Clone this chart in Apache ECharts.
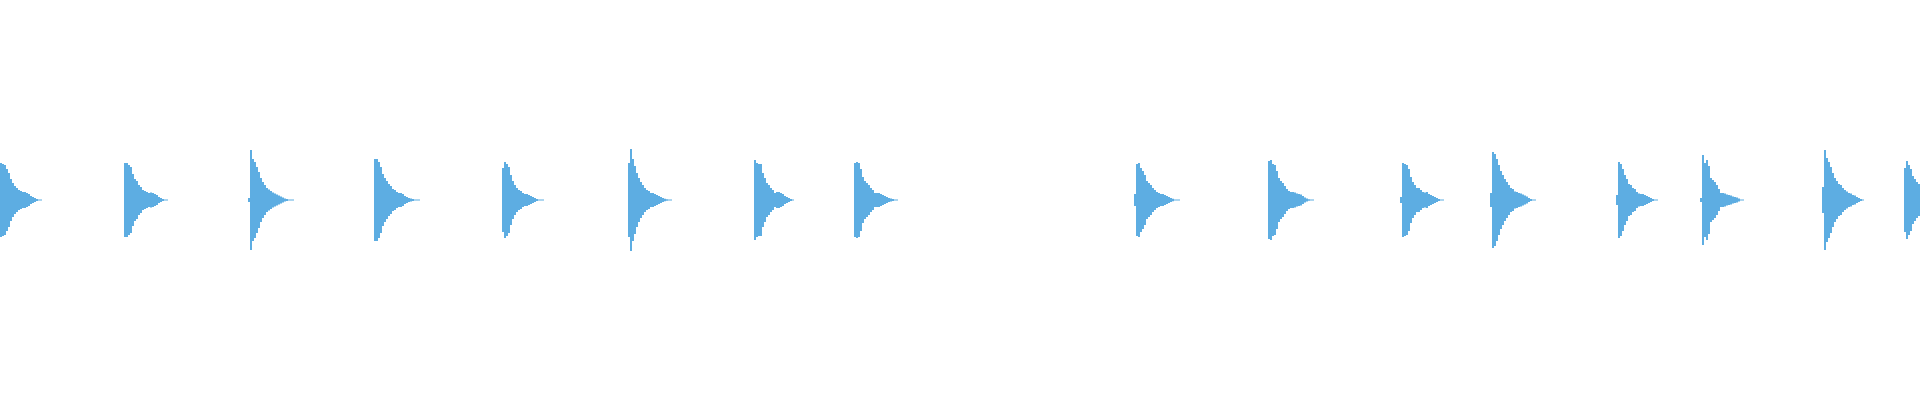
<!DOCTYPE html>
<html>
<head>
<meta charset="utf-8">
<title>waveform</title>
<script src="https://cdn.jsdelivr.net/npm/echarts@6/dist/echarts.min.js"></script>
<style>
    html, body {margin: 0; padding: 0; background: #ffffff;}
    #waveDiv {width: 1920px; height: 400px;}
</style>
</head>
<body>
<div id="waveDiv"></div>
<script>
// number of 2px columns across the picture
var binCount = 960;

// column where each hit starts
var pulseStarts = [0, 62, 124, 187, 251, 314, 377, 427, 567, 634, 700, 745, 808, 850, 911, 952];

// peak level of every column of each hit (mirrored above/below zero)
var pulseLevels = [
    [37, 36, 35, 31, 27, 21, 17, 14, 12, 10, 9, 8, 8, 7, 6, 4, 3, 2, 1, 0.5, 0.5],
    [37, 37, 35, 33, 26, 21, 19, 15, 13, 10, 9, 8, 7, 7.5, 7, 6, 5, 3, 2, 1, 0.5, 0.5],
    [2, 50, 41, 38, 33, 28, 22, 18, 15, 12, 10.5, 9, 7.5, 6.5, 5.5, 4.5, 3.5, 2.5, 1.5, 1, 0.5, 0.5, 0.5],
    [41, 41, 38, 33, 26, 22, 19, 16, 14, 11, 10, 8, 7, 7, 6, 4, 3, 2, 1.5, 1, 0.5, 0.5, 0.5],
    [32, 38, 36, 33, 25, 19, 15, 12, 10, 9, 7, 6, 6, 5, 4, 3, 2, 1, 0.5, 0.5, 0.5],
    [37, 51, 41, 34, 27, 22, 18, 15, 12, 10, 9, 7, 7, 6, 5, 4, 3, 2, 1.3, 0.7, 0.5, 0.5],
    [40, 37, 36, 36, 27, 22, 17, 15, 12, 10, 7, 8, 8, 7, 6, 4, 3, 2, 1, 0.5],
    [37, 38, 37, 31, 23, 19, 17, 15, 12, 10, 7, 7, 7, 6, 5, 4, 3, 2, 1.5, 1, 0.5, 0.5],
    [6, 36, 37, 32, 29, 25, 19, 17, 15, 12, 10, 8, 7, 6, 6, 5, 4, 3, 2, 1.3, 0.5, 0.5, 0.5],
    [39, 40, 36, 35, 29, 22, 19, 17, 14, 11, 9, 8, 8, 7.5, 6.5, 6, 5.5, 4, 2.5, 1.5, 0.7, 0.5, 0.5],
    [3, 37, 36, 35, 31, 23, 18, 15, 12, 12, 10, 8, 7.5, 8, 6, 5, 4, 3, 2, 1, 0.5, 0.5],
    [7, 48, 46, 41, 35, 29, 25, 21, 18, 15, 12, 11, 8.5, 8, 7, 6.5, 5.5, 4.5, 3.5, 2, 1, 0.5, 0.5],
    [5, 38, 36, 31, 25, 21, 16, 15, 12, 11, 8, 6.5, 6, 6, 5, 4, 3, 2, 1, 0.5, 0.5],
    [2, 45, 37, 40, 34, 22, 20, 18, 15, 11, 7, 7, 6.5, 5.5, 5, 4.5, 3.5, 3, 2.5, 1.5, 0.5, 0.5],
    [13, 50, 42, 38, 33, 27, 22, 19, 16, 15, 12, 10, 8.5, 7, 6.5, 5, 4.5, 3, 2, 1, 0.5],
    [32, 39, 35, 31, 24, 21, 18, 16]
];

/*
* 把每一击放到对应的列上
* */
function buildWave() {
    var upper = [];
    var lower = [];
    var labels = [];
    for (var i = 0; i < binCount; i++) {
        upper.push('-');
        lower.push('-');
        labels.push(i);
    }
    for (var p = 0; p < pulseStarts.length; p++) {
        var levels = pulseLevels[p];
        for (var k = 0; k < levels.length; k++) {
            var col = pulseStarts[p] + k;
            if (col >= binCount) break;
            upper[col] = levels[k];
            lower[col] = -levels[k];
        }
    }
    return {labels: labels, upper: upper, lower: lower};
}

var wave = buildWave();
var waveChart = echarts.init(document.getElementById("waveDiv"));

var option = {
    animation: false,
    grid: {left: 0, right: 0, top: 0, bottom: 0},
    xAxis: {
        type: 'category',
        data: wave.labels,
        show: false
    },
    yAxis: {
        type: 'value',
        min: -200,
        max: 200,
        show: false
    },
    series: [
        {
            id: 'upper',
            type: 'bar',
            data: wave.upper,
            barCategoryGap: '0%',
            barGap: '-100%',
            itemStyle: {color: '#5dade2'}
        },
        {
            id: 'lower',
            type: 'bar',
            data: wave.lower,
            barCategoryGap: '0%',
            barGap: '-100%',
            itemStyle: {color: '#5dade2'}
        }
    ]
};
waveChart.setOption(option);
</script>
</body>
</html>
